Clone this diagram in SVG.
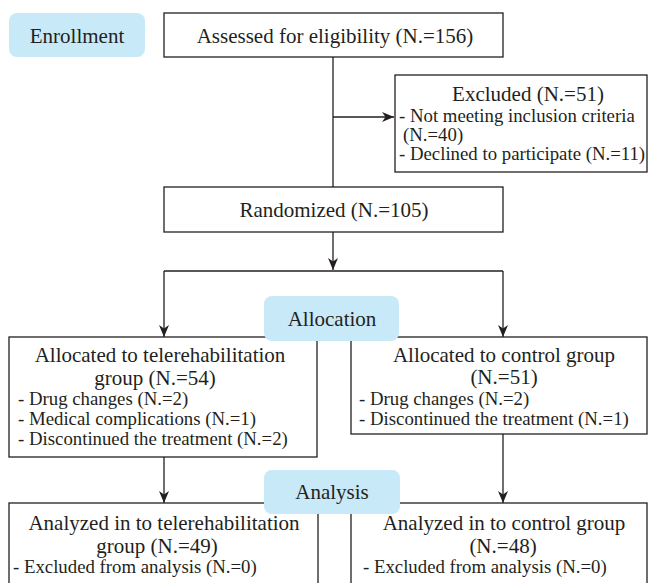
<svg xmlns="http://www.w3.org/2000/svg" width="649" height="583" viewBox="0 0 649 583">
<style>
.box{fill:#fff;stroke:#231f20;stroke-width:1.3}
.badge{fill:#c8e9f8;stroke:none}
.t{font-family:"Liberation Serif","Times New Roman",serif;font-size:21px;fill:#231f20}
.s{font-family:"Liberation Serif","Times New Roman",serif;font-size:18.8px;fill:#231f20}
.c{text-anchor:middle}
.ln{fill:none;stroke:#231f20;stroke-width:1.3}
</style>
<defs>
<marker id="ah" viewBox="0 0 12 10" refX="12" refY="5" markerWidth="12" markerHeight="10" markerUnits="userSpaceOnUse" orient="auto">
<path d="M0,0 L12,5 L0,10 L3.5,5 z" fill="#231f20"/>
</marker>
</defs>
<rect width="649" height="583" fill="#fff"/>
<g id="connectors">
<path class="ln" d="M333,57 V187"/>
<path class="ln" d="M333,117 H394" marker-end="url(#ah)"/>
<path class="ln" d="M333,232 V270" marker-end="url(#ah)"/>
<path class="ln" d="M164,271 H503"/>
<path class="ln" d="M164,271 V337" marker-end="url(#ah)"/>
<path class="ln" d="M503,271 V337" marker-end="url(#ah)"/>
<path class="ln" d="M164,457 V503" marker-end="url(#ah)"/>
<path class="ln" d="M503,434 V503" marker-end="url(#ah)"/>
</g>
<g id="enrollment">
<rect class="badge" x="9" y="13" width="136" height="44" rx="8"/>
<text class="t c" x="77" y="43">Enrollment</text>
</g>
<g id="assessed">
<rect class="box" x="164" y="13" width="339" height="44"/>
<text class="t c" x="335" y="43">Assessed for eligibility (N.=156)</text>
</g>
<g id="excluded">
<rect class="box" x="395" y="75" width="252" height="97"/>
<text class="t c" x="528" y="101">Excluded (N.=51)</text>
<text class="s" x="399" y="122">- Not meeting inclusion criteria</text>
<text class="s" x="403" y="141">(N.=40)</text>
<text class="s" x="399" y="160">- Declined to participate (N.=11)</text>
</g>
<g id="randomized">
<rect class="box" x="164" y="187" width="339" height="45"/>
<text class="t c" x="334" y="217">Randomized (N.=105)</text>
</g>
<g id="alloc-tele">
<rect class="box" x="9" y="337" width="308" height="120"/>
<text class="t c" x="160" y="362">Allocated to telerehabilitation</text>
<text class="t c" x="155" y="385">group (N.=54)</text>
<text class="s" x="18" y="405">- Drug changes (N.=2)</text>
<text class="s" x="18" y="425">- Medical complications (N.=1)</text>
<text class="s" x="18" y="445">- Discontinued the treatment (N.=2)</text>
</g>
<g id="alloc-control">
<rect class="box" x="351" y="337" width="296" height="97"/>
<text class="t c" x="504" y="362">Allocated to control group</text>
<text class="t c" x="504" y="384">(N.=51)</text>
<text class="s" x="359" y="405">- Drug changes (N.=2)</text>
<text class="s" x="359" y="425">- Discontinued the treatment (N.=1)</text>
</g>
<g id="allocation">
<rect class="badge" x="264" y="296" width="135" height="45" rx="8"/>
<text class="t c" x="332" y="326">Allocation</text>
</g>
<g id="analyzed-tele">
<rect class="box" x="9" y="503" width="309" height="90"/>
<text class="t c" x="164" y="530">Analyzed in to telerehabilitation</text>
<text class="t c" x="157" y="553">group (N.=49)</text>
<text class="s" x="13" y="573">- Excluded from analysis (N.=0)</text>
</g>
<g id="analyzed-control">
<rect class="box" x="351" y="503" width="296" height="90"/>
<text class="t c" x="504" y="530">Analyzed in to control group</text>
<text class="t c" x="503" y="553">(N.=48)</text>
<text class="s" x="363" y="573">- Excluded from analysis (N.=0)</text>
</g>
<g id="analysis">
<rect class="badge" x="264" y="470" width="136" height="44" rx="8"/>
<text class="t c" x="332" y="499">Analysis</text>
</g>
</svg>
